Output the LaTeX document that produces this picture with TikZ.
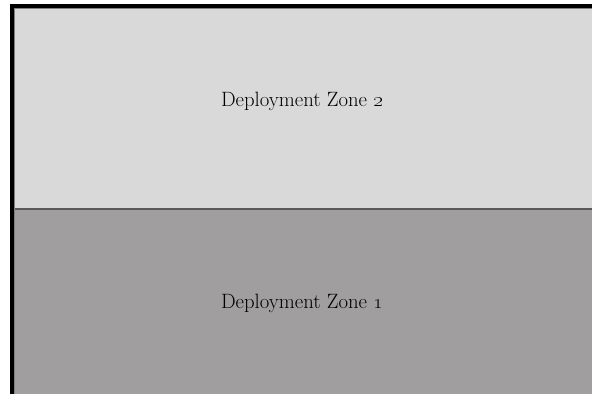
\documentclass[tikz,border=0pt]{standalone}
\usepackage{tikz}
\definecolor{zonelight}{HTML}{D9D9D9}
\definecolor{zonedark}{HTML}{A09E9F}
\definecolor{zoneline}{HTML}{5A5A5A}
\tikzset{zonelabel/.style={font=\fontsize{20.8}{24}\selectfont, text=black}}

\begin{document}
\begin{tikzpicture}[x=1bp, y=1bp]
		%%%%% START %%%%%
		\useasboundingbox (0, 0) rectangle (592, 394);
		
		\fill[zonelight] (12, 185) rectangle (592, 388);
		\fill[zonedark] (12, 0) rectangle (592, 185);
		
		\draw[line width=1.5bp, color=zoneline] (12, 185) -- (592, 185);
		\draw[line width=1bp, color=black!50] (14.5, 0) -- (14.5, 385.5) -- (592, 385.5);
		\draw[line width=4bp, color=black] (12, 0) -- (12, 388) -- (592, 388);
		
		\node[zonelabel] (zone2) at (302, 293) {Deployment Zone \oldstylenums{2}};
		\node[zonelabel] (zone1) at (302, 91) {Deployment Zone \oldstylenums{1}};
		
		%%%%% END %%%%%
	\end{tikzpicture}
\end{document}
